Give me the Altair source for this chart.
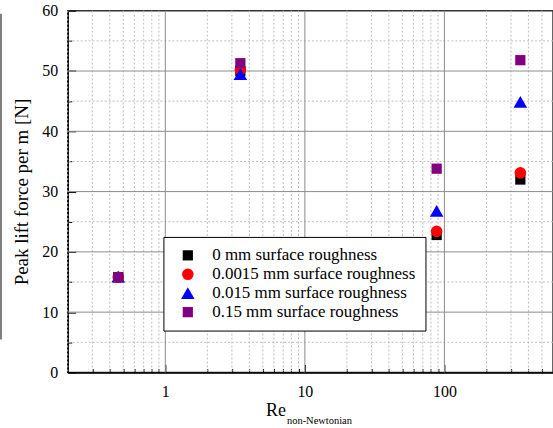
import altair as alt
import pandas as pd

# ---- data ----
re_values = [0.46, 3.45, 88, 350]
force_0mm = [15.8, 50.0, 22.8, 32.0]
force_00015mm = [15.8, 50.2, 23.4, 33.1]
force_0015mm = [15.9, 49.5, 26.8, 44.9]
force_015mm = [15.8, 51.3, 33.8, 51.8]

series_names = [
    "0 mm surface roughness",
    "0.0015 mm surface roughness",
    "0.015 mm surface roughness",
    "0.15 mm surface roughness",
]
series_colors = ["#000000", "#ff0000", "#0000ff", "#800080"]
series_shapes = ["square", "circle", "triangle-up", "square"]
series_sizes = [105, 135, 185, 105]

x_major = [1, 10, 100]
x_minor = [0.2, 0.3, 0.4, 0.5, 0.6, 0.7, 0.8, 0.9,
           2, 3, 4, 5, 6, 7, 8, 9,
           20, 30, 40, 50, 60, 70, 80, 90,
           200, 300, 400, 500]
y_major = [0, 10, 20, 30, 40, 50, 60]
y_minor = [5, 15, 25, 35, 45, 55]

FONT = "Liberation Serif"
W, H = 487, 363

rows = []
for k, (name, vals) in enumerate(zip(series_names, [force_0mm, force_00015mm, force_0015mm, force_015mm])):
    for r, v in zip(re_values, vals):
        rows.append({"Re": r, "F": v, "series": name, "order": k})
df = pd.DataFrame(rows)

xscale = alt.Scale(type="log", domain=[0.2, 600], nice=False)
yscale = alt.Scale(domain=[0, 60], nice=False, zero=False)

xminor_df = pd.DataFrame({"v": x_minor})
xmajor_df = pd.DataFrame({"v": x_major})
yminor_df = pd.DataFrame({"v": y_minor})
ymajor_df = pd.DataFrame({"v": y_major[1:-1]})

tick_axis_common = dict(labels=False, domain=False, grid=False, title=None,
                        tickColor="#000000", tickWidth=1)

xminor_layer = alt.Chart(xminor_df).mark_rule(
    color="#bdbdbd", strokeDash=[2, 2], strokeWidth=1
).encode(
    x=alt.X("v:Q", scale=xscale,
            axis=alt.Axis(orient="bottom", values=x_minor, offset=-4, tickSize=4, **tick_axis_common))
)
yminor_layer = alt.Chart(yminor_df).mark_rule(
    color="#bdbdbd", strokeDash=[2, 2], strokeWidth=1
).encode(
    y=alt.Y("v:Q", scale=yscale,
            axis=alt.Axis(orient="left", values=y_minor, offset=-4, tickSize=4, **tick_axis_common))
)
xmajor_layer = alt.Chart(xmajor_df).mark_rule(color="#8c8c8c", strokeWidth=1).encode(
    x=alt.X("v:Q", scale=xscale,
            axis=alt.Axis(orient="bottom", values=x_major, offset=-8, tickSize=8, **tick_axis_common))
)
ymajor_layer = alt.Chart(ymajor_df).mark_rule(color="#8c8c8c", strokeWidth=1).encode(
    y=alt.Y("v:Q", scale=yscale,
            axis=alt.Axis(orient="left", values=y_major, offset=-8, tickSize=8, **tick_axis_common))
)

points = alt.Chart(df).mark_point(filled=True, opacity=1, strokeWidth=0).encode(
    x=alt.X("Re:Q", scale=xscale,
            axis=alt.Axis(orient="bottom", values=x_major, format="~g", ticks=False, grid=False,
                          domainColor="#000000", domainWidth=1.5, labelFont=FONT, labelFontSize=16,
                          labelColor="#000000", labelPadding=11, title=None)),
    y=alt.Y("F:Q", scale=yscale,
            axis=alt.Axis(orient="left", values=y_major, ticks=False, grid=False,
                          domainColor="#000000", domainWidth=1.5, labelFont=FONT, labelFontSize=16,
                          labelColor="#000000", labelPadding=10,
                          title="Peak lift force per m [N]", titleFont=FONT, titleFontSize=19,
                          titleFontWeight="normal", titleColor="#000000", titlePadding=10)),
    color=alt.Color("series:N", scale=alt.Scale(domain=series_names, range=series_colors),
                    legend=alt.Legend(title=None)),
    shape=alt.Shape("series:N", scale=alt.Scale(domain=series_names, range=series_shapes),
                    legend=alt.Legend(title=None)),
    size=alt.Size("series:N", scale=alt.Scale(type="ordinal", domain=series_names, range=series_sizes),
                  legend=alt.Legend(title=None)),
    order=alt.Order("order:Q"),
)

title_df = pd.DataFrame({"t": ["Re"]})
sub_df = pd.DataFrame({"t": ["non-Newtonian"]})
re_title = alt.Chart(title_df).mark_text(
    font=FONT, fontSize=18, align="left", baseline="alphabetic", color="#000000"
).encode(text="t:N", x=alt.value(199), y=alt.value(407))
re_sub = alt.Chart(sub_df).mark_text(
    font=FONT, fontSize=10.5, align="left", baseline="alphabetic", color="#000000"
).encode(text="t:N", x=alt.value(220), y=alt.value(415))

left_line = alt.Chart(pd.DataFrame({"a": [0]})).mark_rule(color="#555555", strokeWidth=1.5).encode(
    x=alt.value(-67), y=alt.value(3), y2=alt.value(330)
)

chart = alt.layer(
    xminor_layer, yminor_layer, xmajor_layer, ymajor_layer, points, re_title, re_sub, left_line
).resolve_axis(x="independent", y="independent").properties(
    width=W, height=H,
    autosize=alt.AutoSizeParams(type="none"),
    padding={"left": 68, "top": 10, "right": 0, "bottom": 55},
).configure(
    font=FONT
).configure_view(
    stroke="#333333", strokeWidth=1.5
).configure_legend(
    orient="none", legendX=96, legendY=227,
    strokeColor="#000000", fillColor="#ffffff", padding=10,
    labelFont=FONT, labelFontSize=17, labelColor="#000000", labelLimit=400,
    symbolStrokeWidth=0, rowPadding=1, labelOffset=16, symbolOffset=6,
    cornerRadius=0,
)

chart.save("out.html", embed_options={"renderer": "svg", "actions": False})
